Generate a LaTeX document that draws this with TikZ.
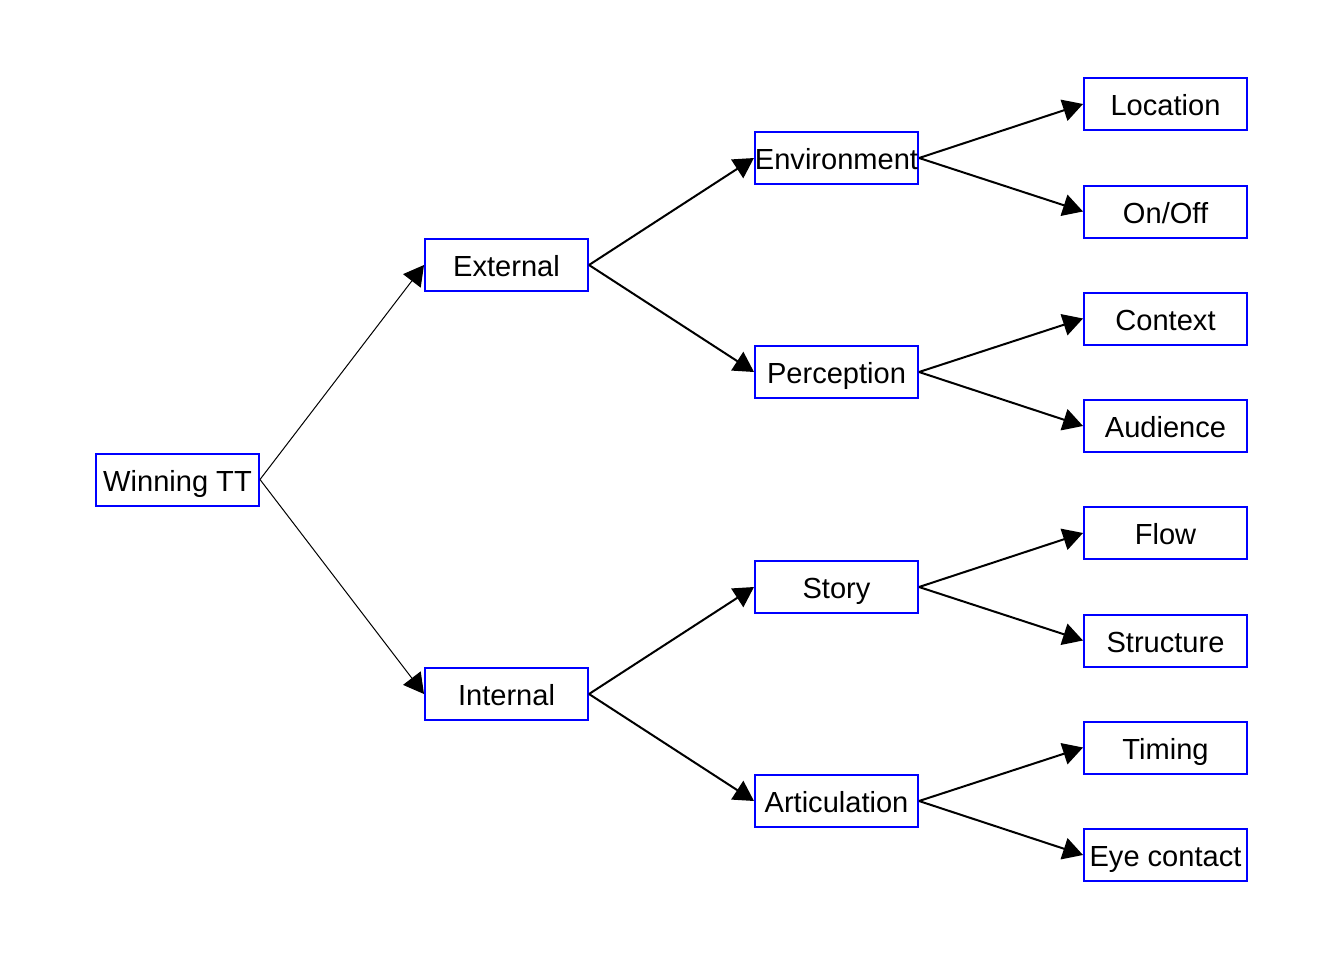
\documentclass[tikz,border=0pt]{standalone}
\usepackage{fontspec}
\setmainfont{Liberation Sans}
\usetikzlibrary{arrows.meta}

\begin{document}
\begin{tikzpicture}[x=0.75pt, y=-0.75pt, >={Triangle[length=15pt, width=16.5pt]},
        box/.style={draw=blue, line width=1.5pt, minimum width=122.25pt, minimum height=39pt,
            inner sep=0pt, text height=17.6pt, text depth=0pt, font=\fontsize{21.8}{24}\selectfont},
        link/.style={->, line width=1.5pt}]
        \useasboundingbox (0, 0) rectangle (1344, 960);
        \node[box] (win) at (177.5, 479.5) {Winning TT};
        \node[box] (ext) at (506.5, 265) {External};
        \node[box] (int) at (506.5, 694) {Internal};
        \node[box] (env) at (836.5, 158) {Environment};
        \node[box] (per) at (836.5, 372) {Perception};
        \node[box] (sto) at (836.5, 587) {Story};
        \node[box] (art) at (836.5, 801) {Articulation};
        \node[box] (loc) at (1165.5, 104) {Location};
        \node[box] (onoff) at (1165.5, 211.5) {On/Off};
        \node[box] (con) at (1165.5, 318.5) {Context};
        \node[box] (aud) at (1165.5, 426) {Audience};
        \node[box] (flow) at (1165.5, 533) {Flow};
        \node[box] (str) at (1165.5, 640.5) {Structure};
        \node[box] (tim) at (1165.5, 747.5) {Timing};
        \node[box] (eye) at (1165.5, 855) {Eye contact};
        % first split is drawn thinner
        \draw[link, line width=0.75pt] (win.east) -- (ext.west);
        \draw[link, line width=0.75pt] (win.east) -- (int.west);
        \draw[link] (ext.east) -- (env.west);
        \draw[link] (ext.east) -- (per.west);
        \draw[link] (int.east) -- (sto.west);
        \draw[link] (int.east) -- (art.west);
        \draw[link] (env.east) -- (loc.west);
        \draw[link] (env.east) -- (onoff.west);
        \draw[link] (per.east) -- (con.west);
        \draw[link] (per.east) -- (aud.west);
        \draw[link] (sto.east) -- (flow.west);
        \draw[link] (sto.east) -- (str.west);
        \draw[link] (art.east) -- (tim.west);
        \draw[link] (art.east) -- (eye.west);
    \end{tikzpicture}
\end{document}
